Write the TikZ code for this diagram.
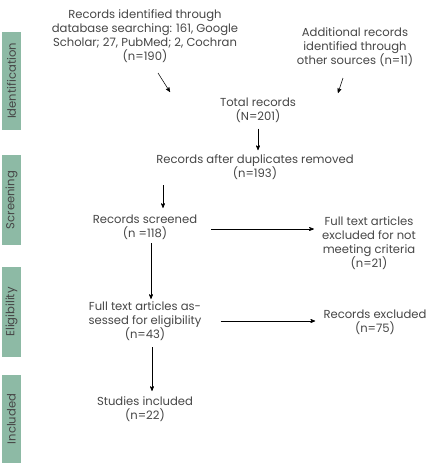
\documentclass[tikz,border=0pt]{standalone}
\usepackage{xcolor}
\usepackage{fontspec}
\setmainfont{Poppins}
\usepackage{tikz}
\usetikzlibrary{positioning}
\usetikzlibrary{shapes,arrows,calc,arrows.meta}

\definecolor{barcol}{RGB}{141,186,165}
\definecolor{txtcol}{RGB}{70,70,70}

\begin{document}
\begin{tikzpicture}[x=0.75pt,y=-0.75pt,>=stealth',thin,
  box/.style={align=center,text=txtcol,font=\fontsize{8.7}{10.5}\selectfont,inner sep=0pt},
  phase/.style={fill=barcol,minimum height=14.25pt,inner sep=0pt,rotate=90,
    text=txtcol,font=\fontsize{8.7}{10}\selectfont}]
  \useasboundingbox (0,0) rectangle (429,465);
  % phase bars
  \node[phase,minimum width=73.5pt] (ident) at (11.5,81) {Identification};
  \node[phase,minimum width=67.5pt] (screen) at (11.5,200) {Screening};
  \node[phase,minimum width=67.5pt] (elig) at (11.5,312) {Eligibility};
  \node[phase,minimum width=66pt] (incl) at (11.5,419) {Included};
  % text boxes
  \node[box] (db) at (145,36) {Records identified through\\database searching: 161, Google\\Scholar; 27, PubMed; 2, Cochran\\(n=190)};
  \node[box] (other) at (355,47) {Additional records\\identified through\\other sources (n=11)};
  \node[box] (total) at (258,110) {Total records\\(N=201)};
  \node[box] (dup) at (255,167) {Records after duplicates removed\\(n=193)};
  \node[box] (scr) at (145,227) {Records screened\\(n =118)};
  \node[box] (excl1) at (369,243) {Full text articles\\excluded for not\\meeting criteria\\(n=21)};
  \node[box] (full) at (145,321) {Full text articles as-\\sessed for eligibility\\(n=43)};
  \node[box] (excl2) at (375,322) {Records excluded\\(n=75)};
  \node[box] (inc) at (145,409) {Studies included\\(n=22)};
  % arrow ends
  \coordinate (a1s) at (158,73);
  \coordinate (a1e) at (170,92);
  \coordinate (a2s) at (343,78);
  \coordinate (a2e) at (338,93);
  \coordinate (a4s) at (163,185);
  \coordinate (a4e) at (163,208);
  \coordinate (a5s) at (151,243);
  \coordinate (a5e) at (151,299);
  \coordinate (a7s) at (152,347);
  \coordinate (a7e) at (152,391);
  \draw[->] (a1s) -- (a1e);
  \draw[->] (a2s) -- (a2e);
  \draw[->] ($(total.south)+(0,6)$) -- ($(dup.north)+(3,-4)$);
  \draw[->] (a4s) -- (a4e);
  \draw[->] (a5s) -- (a5e);
  \draw[->] ($(scr.east)+(14,2)$) -- ($(excl1.west)+(-8,-14)$);
  \draw[->] ($(full.east |- excl2.west)+(19,-1)$) -- ($(excl2.west)+(-8,-1)$);
  \draw[->] (a7s) -- (a7e);
\end{tikzpicture}
\end{document}
